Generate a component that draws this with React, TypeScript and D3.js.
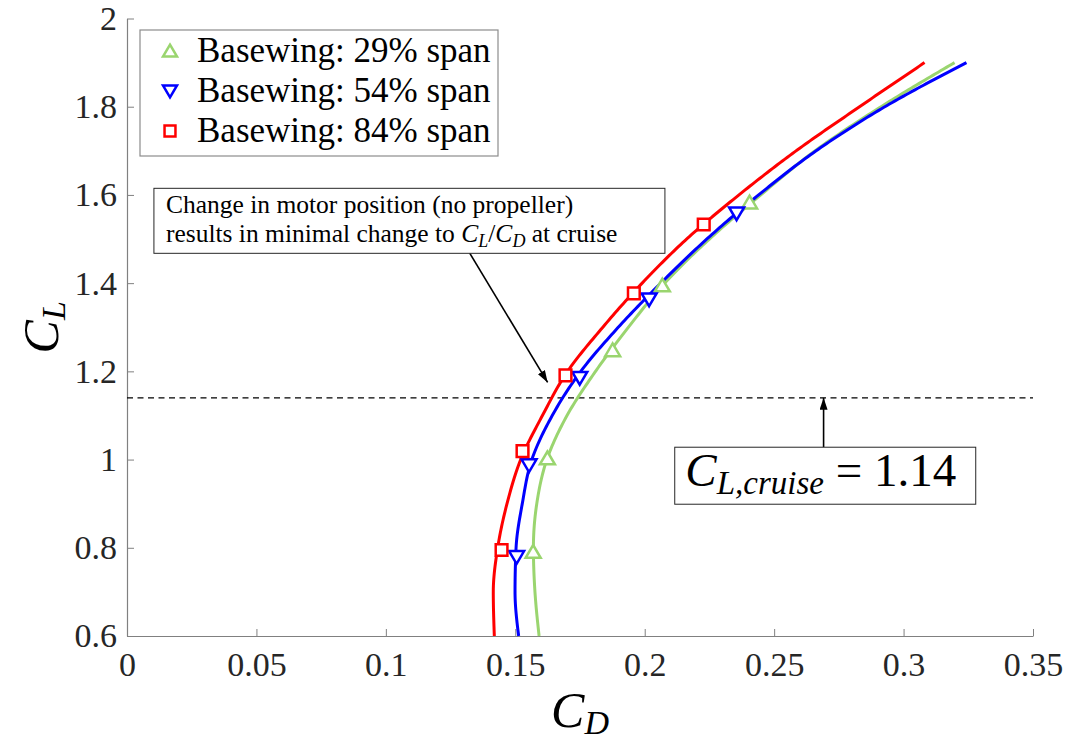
import React, { useEffect, useRef } from 'react';
import * as d3 from 'd3';

// lift coefficient grid the curves are read at
const clGrid = [0.6, 0.7, 0.8, 0.9, 1.0, 1.1, 1.2, 1.3, 1.4, 1.5, 1.6, 1.7, 1.8, 1.9];

// drag coefficient per series
const cd29 = [0.1592, 0.1576, 0.157, 0.1583, 0.1622, 0.17, 0.181, 0.1937, 0.2077, 0.225, 0.2448, 0.2658, 0.2913, 0.3197];
const cd54 = [0.1513, 0.1499, 0.1503, 0.1527, 0.1564, 0.1643, 0.1753, 0.1898, 0.2062, 0.224, 0.244, 0.2662, 0.2928, 0.3243];
const cd84 = [0.1419, 0.1415, 0.1432, 0.1468, 0.1521, 0.1605, 0.1702, 0.1838, 0.199, 0.2162, 0.2364, 0.2585, 0.283, 0.3081];

// marker positions
const mk29CD = [0.1569, 0.1624, 0.1876, 0.2068, 0.2405];
const mk29CL = [0.791, 1.003, 1.248, 1.395, 1.583];
const mk54CD = [0.1505, 0.1553, 0.1749, 0.2017, 0.2355];
const mk54CL = [0.779, 0.987, 1.185, 1.363, 1.558];
const mk84CD = [0.1447, 0.1528, 0.1694, 0.1958, 0.2228];
const mk84CL = [0.795, 1.019, 1.191, 1.377, 1.533];

const legendLabels = ['Basewing: 29% span', 'Basewing: 54% span', 'Basewing: 84% span'];

const xTicks = [0, 0.05, 0.1, 0.15, 0.2, 0.25, 0.3, 0.35];
const yTicks = [0.6, 0.8, 1, 1.2, 1.4, 1.6, 1.8, 2];

const clCruise = 1.14;

const FONT = '"Liberation Serif", "Times New Roman", serif';

const App: React.FC = () => {
  const svgRef = useRef<SVGSVGElement>(null);

  useEffect(() => {
    if (!svgRef.current) return;
    const width = 1070;
    const height = 744;

    const svg = d3.select(svgRef.current);
    svg.selectAll('*').remove();
    svg.attr('width', width).attr('height', height);

    const x = d3.scaleLinear().domain([0, 0.35]).range([127, 1033]);
    const y = d3.scaleLinear().domain([0.6, 2]).range([636, 18.5]);

    const defs = svg.append('defs');
    defs.append('marker')
      .attr('id', 'arrowHead')
      .attr('markerUnits', 'userSpaceOnUse')
      .attr('markerWidth', 13)
      .attr('markerHeight', 9)
      .attr('refX', 12)
      .attr('refY', 4)
      .attr('orient', 'auto')
      .append('path')
      .attr('d', 'M0,0 L12,4 L0,8 Z')
      .attr('fill', 'black');

    // axes
    const xAxis = svg.append('g')
      .attr('transform', `translate(0,${y(0.6)})`)
      .call(
        d3.axisBottom(x)
          .tickValues(xTicks)
          .tickSizeInner(-7)
          .tickSizeOuter(0)
          .tickPadding(16)
          .tickFormat((d) => String(d))
      );
    const yAxis = svg.append('g')
      .attr('transform', `translate(${x(0)},0)`)
      .call(
        d3.axisLeft(y)
          .tickValues(yTicks)
          .tickSizeInner(-7)
          .tickSizeOuter(0)
          .tickPadding(10)
          .tickFormat((d) => String(d))
      );
    [xAxis, yAxis].forEach((ax) => {
      ax.select('.domain').attr('stroke', '#808080').attr('stroke-width', 1.2);
      ax.selectAll('.tick line').attr('stroke', '#808080');
      ax.selectAll('.tick text')
        .attr('fill', '#262626')
        .attr('font-family', FONT)
        .attr('font-size', 34);
    });

    // cruise line
    svg.append('line')
      .attr('x1', x(0))
      .attr('x2', x(0.35))
      .attr('y1', y(clCruise))
      .attr('y2', y(clCruise))
      .attr('stroke', 'black')
      .attr('stroke-width', 1.3)
      .attr('stroke-dasharray', '6,4.5');

    const series = [
      { cd: cd29, mkCD: mk29CD, mkCL: mk29CL, color: '#9ad56f', shape: 'up' },
      { cd: cd54, mkCD: mk54CD, mkCL: mk54CL, color: '#0000ff', shape: 'down' },
      { cd: cd84, mkCD: mk84CD, mkCL: mk84CL, color: '#ff0000', shape: 'square' },
    ];

    // curve built with CL as the independent variable (swapped), then swapped back
    const line = d3.line<[number, number]>()
      .x((d) => y(d[1]))
      .y((d) => x(d[0]))
      .curve(d3.curveMonotoneX);

    const swapPath = (pts: [number, number][]) => {
      const tmp = document.createElementNS('http://www.w3.org/2000/svg', 'path');
      tmp.setAttribute('d', line([...pts].reverse())!);
      const n = 240;
      const total = tmp.getTotalLength();
      const out: [number, number][] = [];
      for (let i = 0; i <= n; i++) {
        const p = tmp.getPointAtLength((total * i) / n);
        out.push([p.y, p.x]);
      }
      return d3.line()(out)!;
    };

    const markerPath = (shape: string, s: number) => {
      if (shape === 'up') return `M0,${-0.9 * s} L${s},${0.8 * s} L${-s},${0.8 * s} Z`;
      if (shape === 'down') return `M0,${0.9 * s} L${s},${-0.8 * s} L${-s},${-0.8 * s} Z`;
      const h = s * 0.78;
      return `M${-h},${-h} H${h} V${h} H${-h} Z`;
    };

    series.forEach((s) => {
      const pts: [number, number][] = s.cd.map((c, i) => [c, clGrid[i]]);
      svg.append('path')
        .attr('d', swapPath(pts))
        .attr('fill', 'none')
        .attr('stroke', s.color)
        .attr('stroke-width', 3);
    });

    series.forEach((s) => {
      svg.selectAll(null)
        .data(s.mkCD.map((c, i) => [c, s.mkCL[i]]))
        .enter()
        .append('path')
        .attr('transform', (d) => `translate(${x(d[0])},${y(d[1])})`)
        .attr('d', markerPath(s.shape, 7.5))
        .attr('fill', 'white')
        .attr('stroke', s.color)
        .attr('stroke-width', 2.5);
    });

    // legend
    const lg = svg.append('g').attr('transform', 'translate(140,30)');
    lg.append('rect')
      .attr('width', 358)
      .attr('height', 126)
      .attr('fill', 'white')
      .attr('stroke', '#8c8c8c')
      .attr('stroke-width', 1.2);
    legendLabels.forEach((lab, i) => {
      const cy = 21 + i * 40;
      lg.append('path')
        .attr('transform', `translate(30,${cy})`)
        .attr('d', markerPath(series[i].shape, 7))
        .attr('fill', 'white')
        .attr('stroke', series[i].color)
        .attr('stroke-width', 2.5);
      lg.append('text')
        .attr('x', 57)
        .attr('y', cy + 11)
        .attr('font-family', FONT)
        .attr('font-size', 35)
        .attr('fill', 'black')
        .attr('xml:space', 'preserve')
        .text(lab);
    });

    // annotation: motor position
    const box1 = { cd: 0.0104, cl: 1.615 };
    const bx = x(box1.cd);
    const by = y(box1.cl);
    svg.append('line')
      .attr('x1', x(0.1324))
      .attr('y1', y(1.468))
      .attr('x2', x(0.1625))
      .attr('y2', y(1.175))
      .attr('stroke', 'black')
      .attr('stroke-width', 1.6)
      .attr('marker-end', 'url(#arrowHead)');
    svg.append('rect')
      .attr('x', bx)
      .attr('y', by)
      .attr('width', 511)
      .attr('height', 65)
      .attr('fill', 'white')
      .attr('stroke', '#262626')
      .attr('stroke-width', 1);
    const t1 = svg.append('text')
      .attr('x', bx + 12)
      .attr('y', by + 25)
      .attr('font-family', FONT)
      .attr('font-size', 25.5)
      .attr('fill', 'black');
    t1.text('Change in motor position (no propeller)');
    const t2 = svg.append('text')
      .attr('x', bx + 12)
      .attr('y', by + 54)
      .attr('font-family', FONT)
      .attr('font-size', 25.5)
      .attr('fill', 'black')
      .attr('xml:space', 'preserve');
    t2.append('tspan').text('results in minimal change to ');
    t2.append('tspan').attr('font-style', 'italic').text('C');
    t2.append('tspan').attr('font-style', 'italic').attr('font-size', 18).attr('dy', 5).text('L');
    t2.append('tspan').attr('dy', -5).text('/');
    t2.append('tspan').attr('font-style', 'italic').text('C');
    t2.append('tspan').attr('font-style', 'italic').attr('font-size', 18).attr('dy', 5).text('D');
    t2.append('tspan').attr('dy', -5).text(' at cruise');

    // annotation: cruise CL
    const arrowCD = 0.2691;
    svg.append('line')
      .attr('x1', x(arrowCD))
      .attr('y1', y(1.028))
      .attr('x2', x(arrowCD))
      .attr('y2', y(clCruise))
      .attr('stroke', 'black')
      .attr('stroke-width', 1.6)
      .attr('marker-end', 'url(#arrowHead)');
    const b2x = x(0.2116);
    const b2y = y(1.028);
    svg.append('rect')
      .attr('x', b2x)
      .attr('y', b2y)
      .attr('width', 301)
      .attr('height', 57)
      .attr('fill', 'white')
      .attr('stroke', '#262626')
      .attr('stroke-width', 1);
    const t3 = svg.append('text')
      .attr('x', b2x + 146)
      .attr('y', b2y + 39)
      .attr('text-anchor', 'middle')
      .attr('font-family', FONT)
      .attr('font-size', 47)
      .attr('fill', 'black')
      .attr('xml:space', 'preserve');
    t3.append('tspan').attr('font-style', 'italic').text('C');
    t3.append('tspan').attr('font-style', 'italic').attr('font-size', 33).attr('dy', 8).text('L,cruise');
    t3.append('tspan').attr('dy', -8).text(' = 1.14');

    // axis labels
    const xl = svg.append('text')
      .attr('x', 580)
      .attr('y', 727)
      .attr('text-anchor', 'middle')
      .attr('font-family', FONT)
      .attr('font-size', 50)
      .attr('fill', 'black');
    xl.append('tspan').attr('font-style', 'italic').text('C');
    xl.append('tspan').attr('font-style', 'italic').attr('font-size', 34).attr('dy', 7).text('D');

    const yl = svg.append('text')
      .attr('transform', `translate(58,${y(1.3)}) rotate(-90)`)
      .attr('text-anchor', 'middle')
      .attr('font-family', FONT)
      .attr('font-size', 50)
      .attr('fill', 'black');
    yl.append('tspan').attr('font-style', 'italic').text('C');
    yl.append('tspan').attr('font-style', 'italic').attr('font-size', 34).attr('dy', 7).text('L');
  }, []);

  return (
    <svg
      ref={svgRef}
      style={{ position: 'absolute', left: 0, top: 0, background: 'white' }}
    />
  );
};

export default App;
